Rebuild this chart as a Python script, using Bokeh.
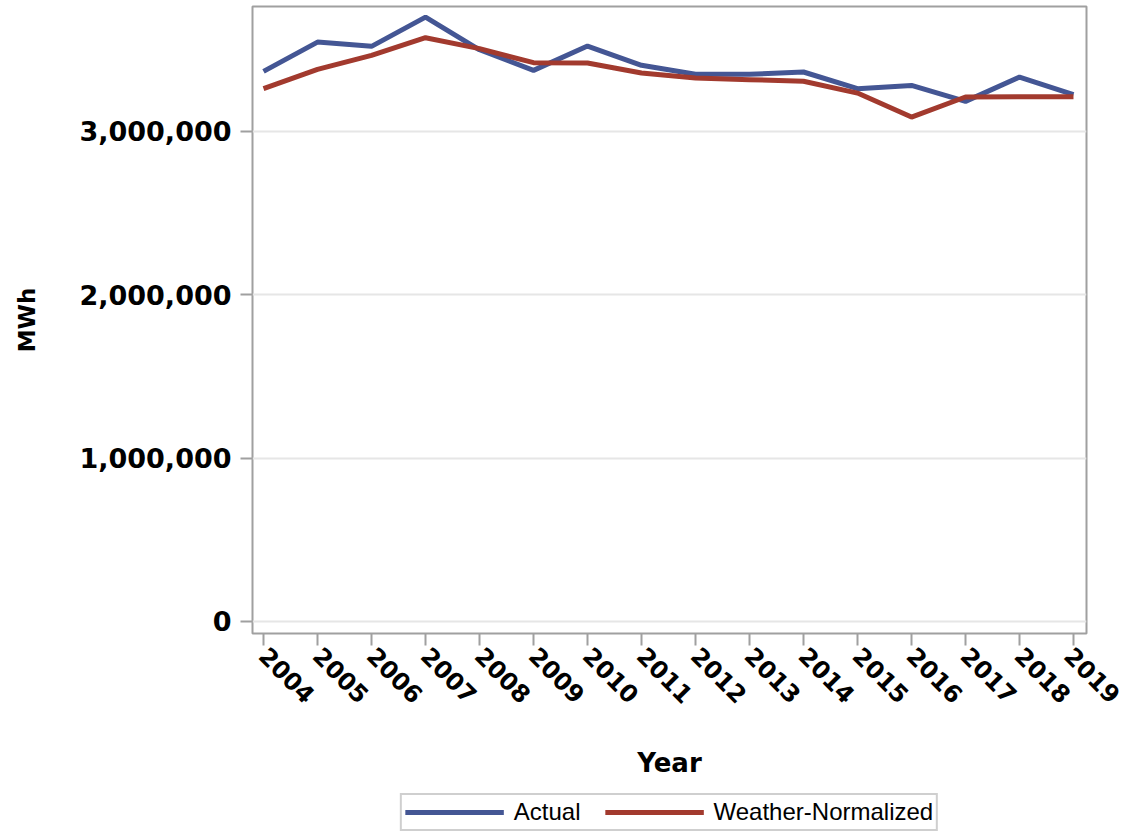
import math
from bokeh.plotting import figure
from bokeh.layouts import column
from bokeh.models import (FixedTicker, NumeralTickFormatter, BasicTickFormatter,
                          Legend, LegendItem, Range1d)
from bokeh.embed import file_html
from bokeh.resources import INLINE

years = list(range(2004, 2020))
actual = [3368000, 3547000, 3521000, 3700000, 3500000, 3374000, 3523000, 3405000,
          3350000, 3350000, 3364000, 3262000, 3282000, 3184000, 3333000, 3225000]
weather_normalized = [3262000, 3380000, 3466000, 3574000, 3507000, 3421000, 3419000, 3358000,
                      3327000, 3317000, 3307000, 3235000, 3088000, 3211000, 3213000, 3213000]
y_ticks = [0, 1000000, 2000000, 3000000]
series_names = ["Actual", "Weather-Normalized"]

BLUE = "#445694"
RED = "#A23A2E"
GRAY = "#a0a0a0"
FONT = "DejaVu Sans"

p = figure(width=1122, height=791, output_backend="svg", toolbar_location=None,
           x_range=Range1d(2003.796, 2019.241), y_range=Range1d(-73500, 3765000),
           min_border_left=252, min_border_right=36, min_border_top=6,
           min_border_bottom=158)

p.outline_line_color = GRAY
p.outline_line_width = 2
p.background_fill_color = "white"
p.border_fill_color = "white"

p.line(years, actual, line_color=BLUE, line_width=5)
p.line(years, weather_normalized, line_color=RED, line_width=5)

# axes
xa = p.xaxis[0]
xa.ticker = FixedTicker(ticks=years)
xa.formatter = BasicTickFormatter(use_scientific=False)
xa.major_label_orientation = -math.pi / 4
xa.axis_line_color = None
xa.major_tick_line_color = GRAY
xa.major_tick_line_width = 2
xa.major_tick_out = 12
xa.major_tick_in = 0
xa.minor_tick_line_color = None
xa.major_label_text_font = FONT
xa.major_label_text_font_style = "bold"
xa.major_label_text_font_size = "24px"
xa.major_label_text_color = "black"
xa.major_label_standoff = 6
xa.axis_label = "Year"
xa.axis_label_text_font = FONT
xa.axis_label_text_font_style = "bold"
xa.axis_label_text_font_size = "26px"
xa.axis_label_text_color = "black"
xa.axis_label_standoff = 34

ya = p.yaxis[0]
ya.ticker = FixedTicker(ticks=y_ticks)
ya.formatter = NumeralTickFormatter(format="0,0")
ya.axis_line_color = None
ya.major_tick_line_color = GRAY
ya.major_tick_line_width = 2
ya.major_tick_out = 12
ya.major_tick_in = 0
ya.minor_tick_line_color = None
ya.major_label_text_font = FONT
ya.major_label_text_font_style = "bold"
ya.major_label_text_font_size = "27px"
ya.major_label_text_color = "black"
ya.major_label_standoff = 9
ya.axis_label = "MWh"
ya.axis_label_text_font = FONT
ya.axis_label_text_font_style = "bold"
ya.axis_label_text_font_size = "23px"
ya.axis_label_text_color = "black"
ya.axis_label_standoff = 36

p.xgrid.grid_line_color = None
p.ygrid.grid_line_color = "#e6e6e6"
p.ygrid.grid_line_width = 2

# legend strip below the chart (its series lie outside its own ranges,
# so only the legend itself is visible)
p2 = figure(width=1122, height=41, output_backend="svg", toolbar_location=None,
            x_range=Range1d(0, 1), y_range=Range1d(0, 1),
            min_border_left=252, min_border_right=36, min_border_top=0,
            min_border_bottom=0)
p2.outline_line_color = None
p2.axis.visible = False
p2.grid.visible = False
p2.background_fill_color = "white"
p2.border_fill_color = "white"
l1 = p2.line(years, actual, line_color=BLUE, line_width=5)
l2 = p2.line(years, weather_normalized, line_color=RED, line_width=5)

legend = Legend(items=[LegendItem(label=series_names[0], renderers=[l1]),
                       LegendItem(label=series_names[1], renderers=[l2])],
                orientation="horizontal", location="center")
legend.label_text_font = "Liberation Sans"
legend.label_text_font_size = "24px"
legend.label_text_color = "black"
legend.glyph_width = 99
legend.glyph_height = 22
legend.label_standoff = 10
legend.spacing = 24
legend.padding = 3
legend.margin = 0
legend.border_line_color = GRAY
legend.border_line_width = 2
legend.background_fill_color = "white"
legend.background_fill_alpha = 1
p2.add_layout(legend, "center")

layout = column(p, p2, spacing=0)

with open("out.html", "w") as f:
    f.write(file_html(layout, INLINE))
